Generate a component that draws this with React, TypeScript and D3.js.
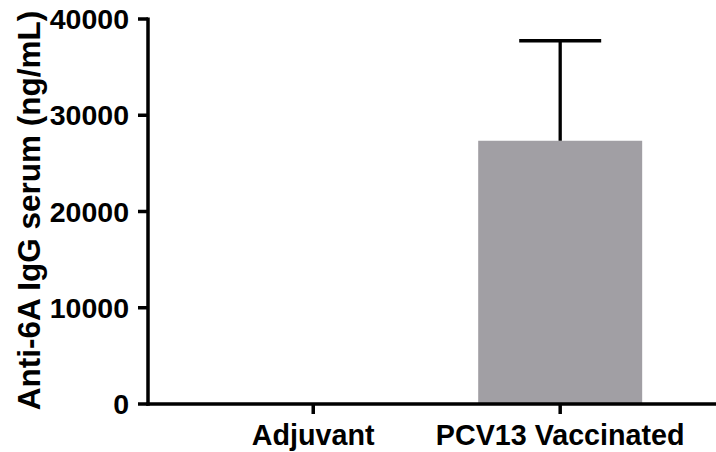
import React from "react";
import * as d3 from "d3";

const categories = ["Adjuvant", "PCV13 Vaccinated"];
const means = [0, 27350];
const errorsUpper = [0, 10400];
const yTicks = [0, 10000, 20000, 30000, 40000];
const yLabel = "Anti-6A IgG serum (ng/mL)";

const W = 716;
const H = 452;
const FONT = "'Liberation Sans', Arial, sans-serif";

export default function App() {
  const left = 148;
  const right = 716;
  const top = 19;
  const bottom = 404;

  const x = d3
    .scaleBand<string>()
    .domain(categories)
    .range([left, right])
    .paddingInner(0.336)
    .paddingOuter(0.318)
    .align(0.53);
  const y = d3.scaleLinear().domain([0, 40000]).range([bottom, top]);
  const bw = x.bandwidth();

  return (
    <svg
      width={W}
      height={H}
      style={{ position: "absolute", left: 0, top: 0, background: "#fff" }}
    >
      {/* bars */}
      {categories.map((c, i) => (
        <rect
          key={c}
          x={x(c)!}
          y={y(means[i])}
          width={bw}
          height={y(0) - y(means[i])}
          fill="#a19fa4"
        />
      ))}
      {/* error bars */}
      {categories.map((c, i) => {
        if (errorsUpper[i] <= 0) return null;
        const cx = x(c)! + bw / 2;
        const yt = y(means[i] + errorsUpper[i]);
        return (
          <g key={"e" + c} stroke="#000">
            <line x1={cx} x2={cx} y1={y(means[i])} y2={yt} strokeWidth={3.3} />
            <line x1={cx - bw / 4} x2={cx + bw / 4} y1={yt} y2={yt} strokeWidth={3.5} />
          </g>
        );
      })}
      {/* y axis */}
      <line x1={left} x2={left} y1={top - 1.5} y2={bottom + 1.75} stroke="#000" strokeWidth={3.5} />
      {yTicks.map((t) => (
        <g key={t}>
          <line x1={left - 10} x2={left} y1={y(t)} y2={y(t)} stroke="#000" strokeWidth={3.5} />
          <text
            x={left - 19}
            y={y(t)}
            textAnchor="end"
            dominantBaseline="central"
            fontFamily={FONT}
            fontWeight="bold"
            fontSize={28.5}
            fill="#000"
          >
            {t}
          </text>
        </g>
      ))}
      {/* x axis */}
      <line x1={left - 1.75} x2={right} y1={bottom} y2={bottom} stroke="#000" strokeWidth={3.5} />
      {categories.map((c) => {
        const cx = x(c)! + bw / 2;
        return (
          <g key={"x" + c}>
            <line x1={cx} x2={cx} y1={bottom} y2={bottom + 10} stroke="#000" strokeWidth={3.5} />
            <text
              x={cx}
              y={445}
              textAnchor="middle"
              fontFamily={FONT}
              fontWeight="bold"
              fontSize={28.7}
              fill="#000"
            >
              {c}
            </text>
          </g>
        );
      })}
      {/* y label */}
      <text
        transform={`translate(40, ${(10 + 411) / 2}) rotate(-90)`}
        textAnchor="middle"
        fontFamily={FONT}
        fontWeight="bold"
        fontSize={31.5}
        fill="#000"
      >
        {yLabel}
      </text>
    </svg>
  );
}
